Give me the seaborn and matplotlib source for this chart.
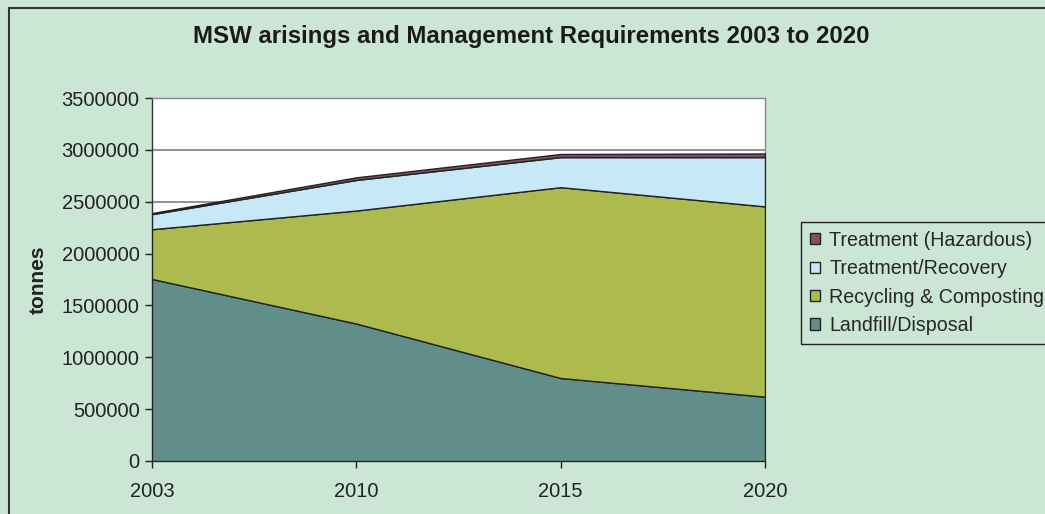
import matplotlib
matplotlib.use("Agg")
import matplotlib.pyplot as plt
import matplotlib.patches as mpatches
import numpy as np
import seaborn as sns

YEARS = ["2003", "2010", "2015", "2020"]
LANDFILL = [1755000, 1325000, 800000, 620000]
RECYCLING = [480000, 1090000, 1840000, 1835000]
TREATMENT = [145000, 295000, 290000, 475000]
HAZARDOUS = [10000, 25000, 30000, 35000]

SERIES = [
    ("Landfill/Disposal", LANDFILL),
    ("Recycling & Composting", RECYCLING),
    ("Treatment/Recovery", TREATMENT),
    ("Treatment (Hazardous)", HAZARDOUS),
]
COLORS = ["#618E8B", "#ADBA4E", "#C6E8F7", "#80506A"]
BG = "#CCE6D5"

sns.set_theme(style="white")
plt.rcParams["font.family"] = ["Liberation Sans", "DejaVu Sans"]

fig = plt.figure(figsize=(10.45, 5.14), dpi=100, facecolor=BG)
ax = fig.add_axes([152 / 1045, 1 - 461 / 514, (765 - 152) / 1045, (461 - 98) / 514])
ax.set_facecolor("white")

# outer chart border (right and bottom are cropped off in the reference)
fig.patches.append(mpatches.Rectangle((9 / 1045, -0.1), 1.2, 1 - 8 / 514 + 0.1,
                                      transform=fig.transFigure, fill=False,
                                      edgecolor="#333333", linewidth=1.5))

x = np.arange(len(YEARS))
ys = [vals for _, vals in SERIES]
palette = sns.color_palette(COLORS)
ax.stackplot(x, *ys, colors=palette, edgecolor="#222222", linewidth=1.0,
             labels=[name for name, _ in SERIES], zorder=3)

ax.set_xlim(0, len(YEARS) - 1)
ax.set_ylim(0, 3500000)
ax.set_yticks(np.arange(0, 3500001, 500000))
ax.set_yticklabels([f"{v:d}" for v in range(0, 3500001, 500000)])
ax.set_xticks(x)
ax.set_xticklabels(YEARS)
ax.tick_params(axis="both", labelsize=14.5, colors="#222222", direction="out",
               length=5, width=1, left=True, bottom=True, pad=4)
ax.tick_params(axis="x", pad=10)
ax.grid(axis="y", color="#808080", linewidth=1.2, zorder=1)
ax.set_axisbelow(True)

for side in ("top", "right"):
    ax.spines[side].set_color("#888888")
    ax.spines[side].set_linewidth(1)
for side in ("left", "bottom"):
    ax.spines[side].set_color("#333333")
    ax.spines[side].set_linewidth(1)

ax.set_ylabel("tonnes", fontsize=15, fontweight="bold", color="#222222", labelpad=10)
fig.text(531 / 1045, 1 - 36 / 514, "MSW arisings and Management Requirements 2003 to 2020",
         ha="center", va="center", fontsize=17.3, fontweight="bold", color="#1a1a1a")

handles, labels = ax.get_legend_handles_labels()
leg = fig.legend(handles[::-1], labels[::-1], loc="upper left",
                 bbox_to_anchor=(801 / 1045, 1 - 222 / 514), fontsize=14.1,
                 frameon=True, fancybox=False, edgecolor="#222222", facecolor=BG,
                 framealpha=1, handlelength=0.5, handleheight=0.5, handletextpad=0.5,
                 labelspacing=0.48, borderpad=0.45, borderaxespad=0)
leg.get_frame().set_linewidth(1)

fig.savefig("out.png", dpi=100, facecolor=BG)
